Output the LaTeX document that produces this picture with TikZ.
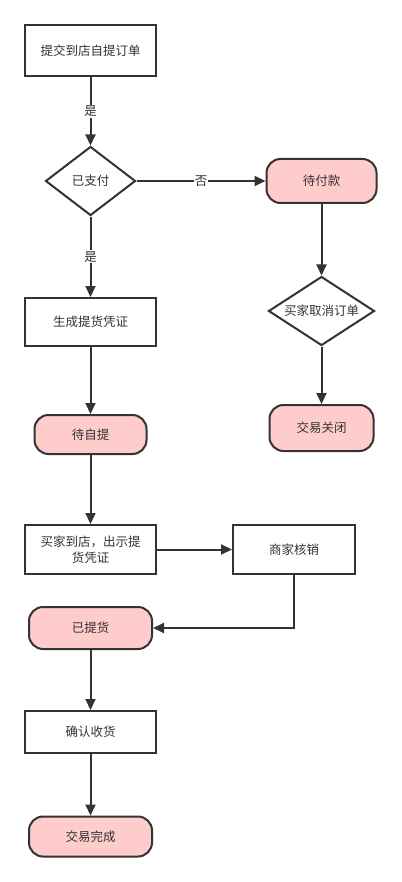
\documentclass[tikz,border=0pt]{standalone}
\usepackage{fontspec}
\newfontfamily\cjk{Noto Sans CJK SC}
\usetikzlibrary{shapes.geometric,arrows.meta}
\definecolor{pinkfill}{HTML}{FFCCCC}
\definecolor{darkline}{HTML}{333333}
\begin{document}
\begin{tikzpicture}[x=1pt,y=-1pt,>={Triangle[width=10pt,length=11pt]},line width=2pt,color=darkline,
    font=\cjk\fontsize{12.5}{16}\selectfont,
    proc/.style={draw,rectangle,minimum width=131,minimum height=51,inner sep=0},
    state/.style={draw,rounded corners=14,fill=pinkfill,minimum height=43,inner sep=0},
    ask/.style={draw,diamond,inner sep=0,fill=white},
    lbl/.style={fill=white,inner sep=1}]
            \useasboundingbox (0,0) rectangle (401,882);
            % left column
            \node[proc] (submit) at (90.5,50.5) {提交到店自提订单};
            \node[ask,minimum width=90,minimum height=69] (paid) at (90.5,181) {\makebox[0pt]{已支付}};
            \node[proc,minimum height=48] (voucher) at (90.5,322) {生成提货凭证};
            \node[state,minimum width=112,minimum height=39] (waiting) at (90.5,434.5) {待自提};
            \node[proc,minimum height=49,align=center] (arrive) at (90.5,549.5) {买家到店，出示提\\货凭证};
            \node[state,minimum width=123,minimum height=42] (picked) at (90.5,628) {已提货};
            \node[proc,minimum height=42] (confirm) at (90.5,732) {确认收货};
            \node[state,minimum width=123,minimum height=40] (done) at (90.5,836.5) {交易完成};
            % right column
            \node[state,minimum width=110,minimum height=44] (unpaid) at (321.5,181) {待付款};
            \node[ask,minimum width=106,minimum height=69] (cancel) at (321.5,311) {\makebox[0pt]{买家取消订单}};
            \node[state,minimum width=104,minimum height=46] (closed) at (321.5,428) {交易关闭};
            \node[proc,minimum width=122,minimum height=49] (verify) at (294,549.5) {商家核销};
            % connectors
            \draw[->] (submit) -- node[lbl]{是} (paid);
            \draw[->] (paid) -- node[lbl]{否} (unpaid);
            \draw[->] (paid) -- node[lbl]{是} (voucher);
            \draw[->] (unpaid) -- (cancel);
            \draw[->] (cancel) -- (closed);
            \draw[->] (voucher) -- (waiting);
            \draw[->] (waiting) -- (arrive);
            \draw[->] (arrive) -- (verify);
            \draw[->] (verify) |- (picked);
            \draw[->] (picked) -- (confirm);
            \draw[->] (confirm) -- (done);
        \end{tikzpicture}
\end{document}
